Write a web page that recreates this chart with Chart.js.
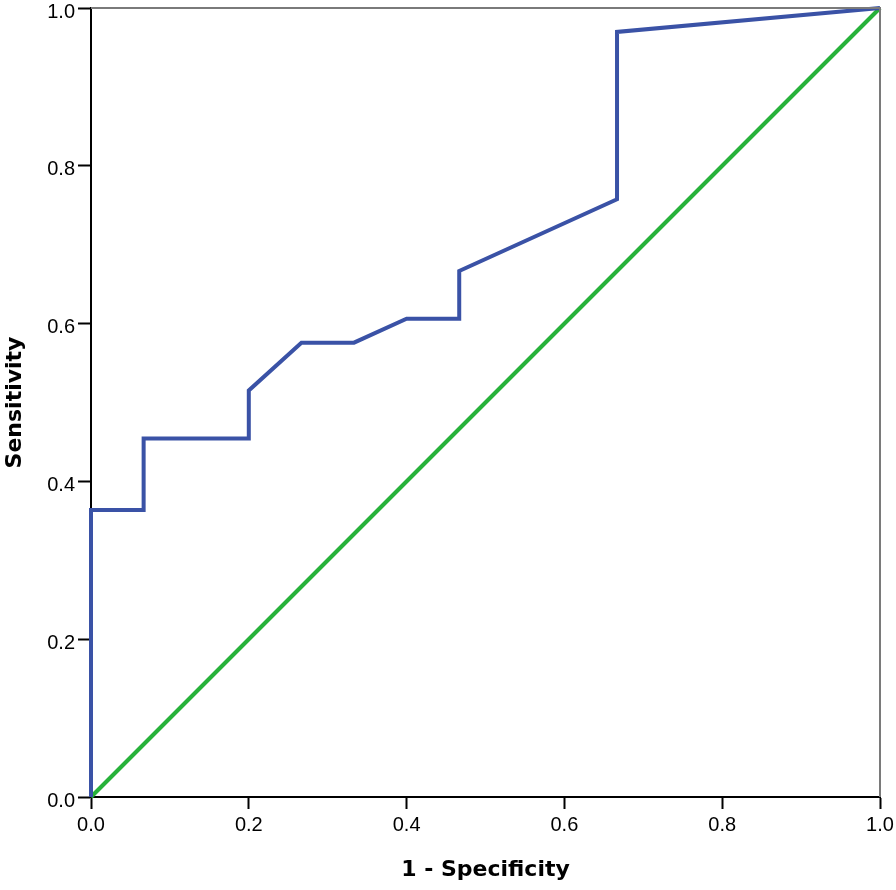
<!DOCTYPE html>
<html>
<head>
<meta charset="utf-8">
<script src="https://cdn.jsdelivr.net/npm/chart.js@4/dist/chart.umd.min.js"></script>
<style>
  html, body { margin: 0; padding: 0; background: #fff; }
  #wrap { width: 896px; height: 890px; position: relative; }
</style>
</head>
<body>
<div id="wrap"><canvas id="rocChart"></canvas></div>
<script>
// ROC curve points (1 - specificity, sensitivity)
const rocFpr  = [0, 0, 0.0667, 0.0667, 0.2, 0.2, 0.2667, 0.3333, 0.4, 0.4667, 0.4667, 0.6667, 0.6667, 1];
const rocTpr  = [0, 0.3636, 0.3636, 0.4545, 0.4545, 0.5152, 0.5758, 0.5758, 0.6061, 0.6061, 0.6667, 0.7576, 0.9697, 1];
// reference diagonal
const refX = [0, 1];
const refY = [0, 1];
const tickValues = [0, 0.2, 0.4, 0.6, 0.8, 1.0];

const toPoints = (xs, ys) => xs.map((x, i) => ({x: x, y: ys[i]}));

// gray frame on the top and right of the plot area
const frameBorder = {
    id: 'frameBorder',
    afterDatasetsDraw(chart) {
        const a = chart.chartArea;
        const ctx = chart.ctx;
        ctx.save();
        ctx.strokeStyle = '#7a7a7a';
        ctx.lineWidth = 2;
        ctx.beginPath();
        ctx.moveTo(a.left, a.top);
        ctx.lineTo(a.right, a.top);
        ctx.lineTo(a.right, a.bottom);
        ctx.stroke();
        ctx.restore();
    }
};

const tickFont = {family: "Liberation Sans", size: 20};
const titleFont = {family: "DejaVu Sans", size: 22, weight: 'bold'};

new Chart(document.getElementById('rocChart'), {
    type: 'scatter',
    data: {
        datasets: [{
            label: 'ROC',
            data: toPoints(rocFpr, rocTpr),
            showLine: true,
            borderColor: '#3a52a6',
            borderWidth: 4,
            pointRadius: 0,
            tension: 0,
            clip: false
        }, {
            label: 'Reference',
            data: toPoints(refX, refY),
            showLine: true,
            borderColor: '#27b23a',
            borderWidth: 4,
            pointRadius: 0,
            clip: false
        }]
    },
    options: {
        responsive: true,
        maintainAspectRatio: false,
        animation: false,
        layout: {
            padding: 0
        },
        plugins: {
            legend: {display: false},
            tooltip: {enabled: false}
        },
        scales: {
            x: {
                type: 'linear',
                min: 0,
                max: 1,
                afterFit: function (scale) {
                    scale.height = 93;
                    scale.paddingRight = 16;
                },
                afterBuildTicks: function (scale) {
                    scale.ticks = tickValues.map(v => ({value: v}));
                },
                border: {color: '#000', width: 2},
                grid: {
                    drawOnChartArea: false,
                    drawTicks: true,
                    tickLength: 12,
                    tickColor: '#000',
                    tickWidth: 2
                },
                ticks: {
                    color: '#000',
                    font: tickFont,
                    padding: 4,
                    maxRotation: 0,
                    callback: function (value) { return value.toFixed(1); }
                },
                title: {
                    display: true,
                    text: '1 - Specificity',
                    color: '#000',
                    font: titleFont,
                    padding: {top: 0, bottom: 7}
                }
            },
            y: {
                type: 'linear',
                min: 0,
                max: 1,
                afterFit: function (scale) {
                    scale.width = 91;
                    scale.paddingTop = 8;
                    scale.paddingBottom = 0;
                },
                afterBuildTicks: function (scale) {
                    scale.ticks = tickValues.map(v => ({value: v}));
                },
                border: {color: '#000', width: 2},
                grid: {
                    drawOnChartArea: false,
                    drawTicks: true,
                    tickLength: 13,
                    tickColor: '#000',
                    tickWidth: 2
                },
                ticks: {
                    color: '#000',
                    font: tickFont,
                    padding: 3,
                    labelOffset: 4,
                    callback: function (value) { return value.toFixed(1); }
                },
                title: {
                    display: true,
                    text: 'Sensitivity',
                    color: '#000',
                    font: titleFont,
                    padding: {top: 2, bottom: 0}
                }
            }
        }
    },
    plugins: [frameBorder]
});
</script>
</body>
</html>
